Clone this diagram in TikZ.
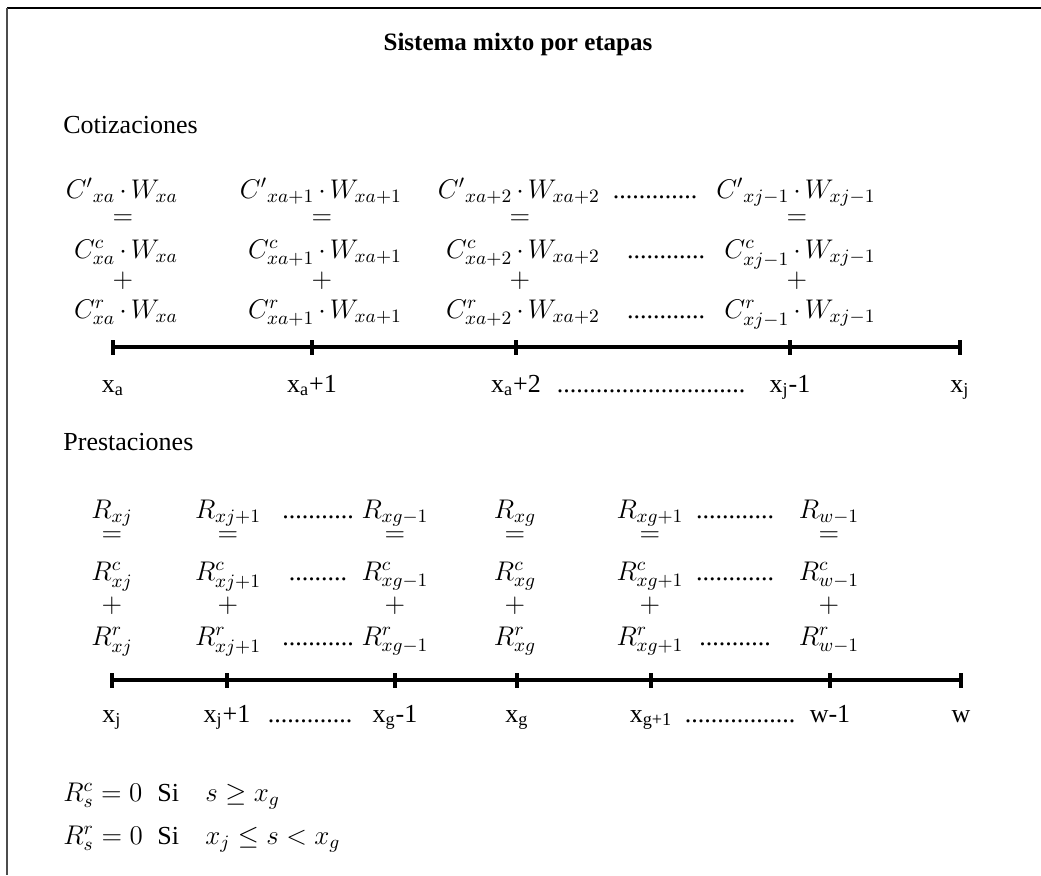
\documentclass[tikz,border=0pt]{standalone}
\usepackage{fix-cm}
\usepackage{amsmath,amssymb}
\usepackage{fontspec}
\setmainfont{Liberation Serif}
\usetikzlibrary{positioning}

\newcommand{\dotprod}[2]{\llap{$#1$\hspace{2pt}}$\cdot$\rlap{\hspace{2pt}$#2$}}

\tikzset{
  txt/.style={inner sep=0pt,anchor=base,font=\fontsize{13}{16}\selectfont},
  term/.style={inner sep=0pt,anchor=base,font=\fontsize{13.5}{16}\selectfont},
  sign/.style={inner sep=0pt,anchor=center,font=\fontsize{13.5}{16}\selectfont},
  axis/.style={line width=1.6pt},
  tick/.style={line width=1.6pt},
  frame/.style={line width=0.7pt}
}

\begin{document}
\begin{tikzpicture}[x=0.5pt,y=-0.5pt]
\useasboundingbox (0,0) rectangle (1041,875);
% frame
\coordinate (f-tl) at (7,8);
\coordinate (f-tr) at (1041,8);
\coordinate (f-bl) at (7,875);
\draw[frame] (f-tl) -- (f-tr);
\draw[frame,black!70,line width=1.1pt] (f-tl) -- (f-bl);

\node[txt,font=\fontsize{12.5}{15}\selectfont\bfseries] (title) at (518,50) {Sistema mixto por etapas};

%% Cotizaciones
\node[txt,anchor=base west] (cotiz) at (63,133) {Cotizaciones};
\foreach \dx/\sub/\n in {123/xa/1, 322/xa+1/2, 520/xa+2/3, 797/xj-1/4} {
  \foreach \y/\lhs/\r in {198/{{C'}}/1, 258/{C^{c}}/2, 318/{C^{r}}/3}
    \node[term] (c\n-\r) at (\dx,\y) {\dotprod{\lhs_{\sub}}{W_{\sub}}};
  \node[sign] (c\n-eq) at (\dx,220) {$=$};
  \node[sign] (c\n-pl) at (\dx,281) {$+$};
}
\node[txt] (c-dots1) at (655,198) {.............};
\node[txt] (c-dots2) at (666,258) {............};
\node[txt] (c-dots3) at (666,318) {............};

\foreach \tx/\lab/\n in {113/x\textsubscript{a}/1, 312/x\textsubscript{a}+1/2, 516/x\textsubscript{a}+2/3, 790/x\textsubscript{j}-1/4, 960/x\textsubscript{j}/5} {
  \coordinate (ct\n) at (\tx,347);
  \draw[tick] (ct\n) ++(0,-7) -- ++(0,15);
  \node[txt] (cl\n) at (\tx,392) {\lab};
}
\draw[axis] (ct1) -- (ct5);
\node[txt] (cl-dots) at (651,392) {.............................};

%% Prestaciones
\node[txt,anchor=base west] (prest) at (63,450) {Prestaciones};
\foreach \cx/\sub/\n in {112/xj/1, 228/xj+1/2, 395/xg-1/3, 515/xg/4, 650/xg+1/5, 829/w-1/6} {
  \node[term] (r\n-1) at (\cx,518) {$R_{\sub}$};
  \node[sign] (r\n-eq) at (\cx,537) {$=$};
  \node[term] (r\n-2) at (\cx,580) {$R^{c}_{\sub}$};
  \node[sign] (r\n-pl) at (\cx,606) {$+$};
  \node[term] (r\n-3) at (\cx,645) {$R^{r}_{\sub}$};
}
\node[txt] (r-dots1a) at (318,518) {...........};
\node[txt] (r-dots1b) at (735,518) {............};
\node[txt] (r-dots2a) at (318,580) {.........};
\node[txt] (r-dots2b) at (735,580) {............};
\node[txt] (r-dots3a) at (318,645) {...........};
\node[txt] (r-dots3b) at (735,645) {...........};

\foreach \tx/\lab/\n in {112/x\textsubscript{j}/1, 227/x\textsubscript{j}+1/2, 395/x\textsubscript{g}-1/3, 517/x\textsubscript{g}/4, 651/x\textsubscript{g+1}/5, 830/w-1/6, 961/w/7} {
  \coordinate (rt\n) at (\tx,680);
  \draw[tick] (rt\n) ++(0,-7) -- ++(0,15);
  \node[txt] (rl\n) at (\tx,722) {\lab};
}
\draw[axis] (rt1) -- (rt7);
\node[txt] (rl-dots1) at (310,722) {.............};
\node[txt] (rl-dots2) at (740,722) {.................};

%% condiciones
\node[term,anchor=base west] (eq1) at (63,801) {$R^{c}_{s} = 0$};
\node[txt,anchor=base west] (si1) at (157,801) {Si};
\node[term,anchor=base west] (cond1) at (205,801) {$s \geq x_g$};
\node[term,anchor=base west] (eq2) at (63,844) {$R^{r}_{s} = 0$};
\node[txt,anchor=base west] (si2) at (157,844) {Si};
\node[term,anchor=base west] (cond2) at (205,844) {$x_j \leq s < x_g$};
\end{tikzpicture}
\end{document}
